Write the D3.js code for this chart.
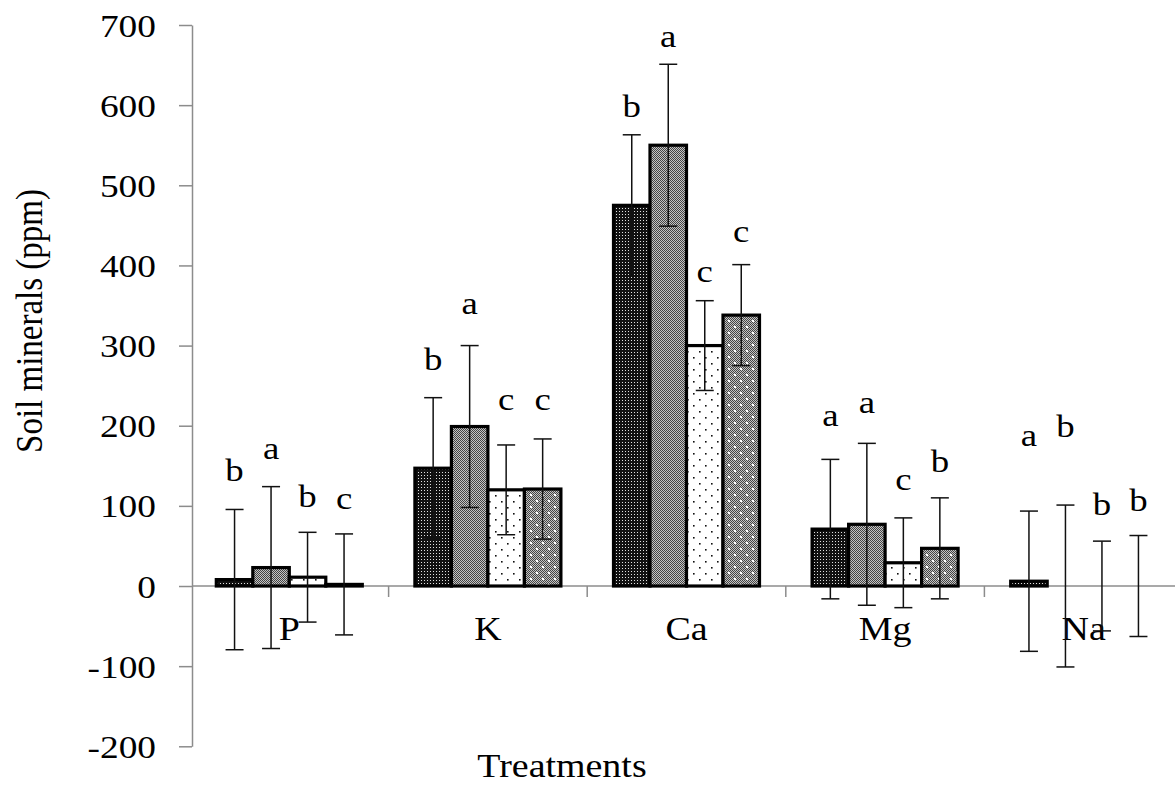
<!DOCTYPE html>
<html><head><meta charset="utf-8">
<script src="https://cdn.jsdelivr.net/npm/d3@7"></script>
<style>
body{margin:0;background:#fff}
svg{display:block}
text{font-family:"Liberation Serif","Times New Roman",serif;fill:#000}
</style>
</head><body>
<svg id="c" width="1175" height="785"></svg>
<script>
// ---- data ----
const categories = ["P","K","Ca","Mg","Na"];
const seriesNames = ["T1","T2","T3","T4"];
const values1 = [8,147,475,71,6];
const values2 = [23,199,550,77,0];
const values3 = [11,120,300,29,0];
const values4 = [2,121,338,47,0];
const err1 = [87.5,88,88,87,87.5];
const err2 = [101,101,101,101,101];
const err3 = [56,56,56,56,56];
const err4 = [63,62.5,63,63,63];
const letters1 = ["b","b","b","a","a"];
const letters2 = ["a","a","a","a","b"];
const letters3 = ["b","c","c","c","b"];
const letters4 = ["c","c","c","b","b"];
const letterPos1 = [131,270,585,200,175];
const letterPos2 = [158,340,672,216,186];
const letterPos3 = [99,220,379,120,88.5];
const letterPos4 = [96,220,429,142,93];
const yTicks = [-200,-100,0,100,200,300,400,500,600,700];
const yTitle = "Soil minerals (ppm)";
const xTitle = "Treatments";

const allValues = [values1,values2,values3,values4];
const allErr = [err1,err2,err3,err4];
const allLetters = [letters1,letters2,letters3,letters4];
const allLetterPos = [letterPos1,letterPos2,letterPos3,letterPos4];

const rows = [];
categories.forEach((c,i)=>seriesNames.forEach((s,j)=>{
  rows.push({cat:c,ser:s,si:j,v:allValues[j][i],e:allErr[j][i],l:allLetters[j][i],lp:allLetterPos[j][i]});
}));

const SX = 1.15;
const svg = d3.select("#c");
const y = d3.scaleLinear().domain([-200,700]).range([746.3,25]);
const x = d3.scaleBand().domain(categories).range([190,1183]).padding(0);
const xs = d3.scaleBand().domain(seriesNames).range([-73,73]).padding(0);
const axisX0 = 192;
const y0 = y(0);

// ---- patterns ----
const defs = svg.append("defs");
const p1 = defs.append("pattern").attr("id","p1").attr("patternUnits","userSpaceOnUse").attr("width",3).attr("height",3);
p1.append("rect").attr("width",3).attr("height",3).attr("fill","#111");
p1.append("rect").attr("x",1).attr("y",1).attr("width",1).attr("height",1).attr("fill","#e0e0e0");
const p2 = defs.append("pattern").attr("id","p2").attr("patternUnits","userSpaceOnUse").attr("width",2).attr("height",2);
p2.append("rect").attr("width",2).attr("height",2).attr("fill","#c4c4c4");
p2.append("rect").attr("width",1).attr("height",1).attr("fill","#444");
p2.append("rect").attr("x",1).attr("y",1).attr("width",1).attr("height",1).attr("fill","#444");
const p3 = defs.append("pattern").attr("id","p3").attr("patternUnits","userSpaceOnUse").attr("width",12).attr("height",12);
p3.append("rect").attr("width",12).attr("height",12).attr("fill","#fff");
p3.append("rect").attr("x",3).attr("y",3).attr("width",1.6).attr("height",1.6).attr("fill","#111");
p3.append("rect").attr("x",9).attr("y",9).attr("width",1.6).attr("height",1.6).attr("fill","#111");
const p4 = defs.append("pattern").attr("id","p4").attr("patternUnits","userSpaceOnUse").attr("width",12).attr("height",12);
p4.append("rect").attr("width",12).attr("height",12).attr("fill","url(#p2)");
p4.append("rect").attr("x",2).attr("y",2).attr("width",2).attr("height",2).attr("fill","#fff");
p4.append("rect").attr("x",8).attr("y",8).attr("width",2).attr("height",2).attr("fill","#fff");
const fills = ["url(#p1)","url(#p2)","url(#p3)","url(#p4)"];

// ---- y axis ----
const yAxis = svg.append("g").attr("transform",`translate(${axisX0},0)`)
  .call(d3.axisLeft(y).tickValues(yTicks).tickSize(13).tickSizeOuter(0).tickFormat(d=>String(d)));
yAxis.attr("font-size",null).attr("font-family",null);
yAxis.select(".domain").attr("stroke","#8c8c8c").attr("stroke-width",1.5);
yAxis.selectAll(".tick line").attr("stroke","#8c8c8c").attr("stroke-width",1.5);
yAxis.selectAll(".tick text").attr("x",null).attr("dy","0.34em")
  .attr("transform",`translate(-36,0) scale(${SX},1)`)
  .style("font-size","32.5px").attr("fill","#000");

// ---- x axis ----
const xAxis = svg.append("g").attr("transform",`translate(0,${y0})`)
  .call(d3.axisBottom(x).tickSize(0).tickSizeOuter(0));
xAxis.attr("font-size",null).attr("font-family",null);
xAxis.select(".domain").attr("stroke","#8c8c8c").attr("stroke-width",1.5)
  .attr("d",`M${axisX0},0H1183`);
xAxis.selectAll(".tick text").attr("y",0).attr("dy",null)
  .attr("transform",`translate(0,54) scale(${SX},1)`)
  .style("font-size","33px").attr("fill","#000");
xAxis.selectAll(".bound").data(categories.slice(1).concat(["_end"])).enter().append("line")
  .attr("class","bound")
  .attr("x1",d=>d==="_end"?x.range()[1]:x(d)).attr("x2",d=>d==="_end"?x.range()[1]:x(d))
  .attr("y1",0).attr("y2",11).attr("stroke","#8c8c8c").attr("stroke-width",1.5);

// ---- bars ----
const cx = d => x(d.cat) + x.bandwidth()/2 + xs(d.ser) + xs.bandwidth()/2;
svg.append("g").selectAll("rect").data(rows.filter(d=>d.v>0)).enter().append("rect")
  .attr("x",d=>x(d.cat)+x.bandwidth()/2+xs(d.ser))
  .attr("width",xs.bandwidth())
  .attr("y",d=>y(d.v))
  .attr("height",d=>y0-y(d.v))
  .attr("fill",d=>fills[d.si])
  .attr("stroke","#000").attr("stroke-width",3.2);

// ---- error bars ----
const eg = svg.append("g").attr("stroke","#111").attr("stroke-width",1.5);
rows.forEach(d=>{
  const c = cx(d), t = y(d.v+d.e), b = y(d.v-d.e);
  eg.append("line").attr("x1",c).attr("x2",c).attr("y1",t).attr("y2",b);
  eg.append("line").attr("x1",c-9).attr("x2",c+9).attr("y1",t).attr("y2",t);
  eg.append("line").attr("x1",c-9).attr("x2",c+9).attr("y1",b).attr("y2",b);
});

// ---- letters ----
svg.append("g").selectAll("text").data(rows).enter().append("text")
  .attr("text-anchor","middle")
  .attr("transform",d=>`translate(${cx(d)},${y(d.lp)}) scale(${SX},1)`)
  .style("font-size","32px")
  .text(d=>d.l);

// ---- titles ----
svg.append("text").attr("text-anchor","middle")
  .attr("transform",`translate(42,321) scale(${SX},1) rotate(-90)`)
  .style("font-size","33px").text(yTitle);
svg.append("text").attr("text-anchor","middle")
  .attr("transform",`translate(562,777) scale(${SX},1)`)
  .style("font-size","33px").text(xTitle);
</script>
</body></html>
